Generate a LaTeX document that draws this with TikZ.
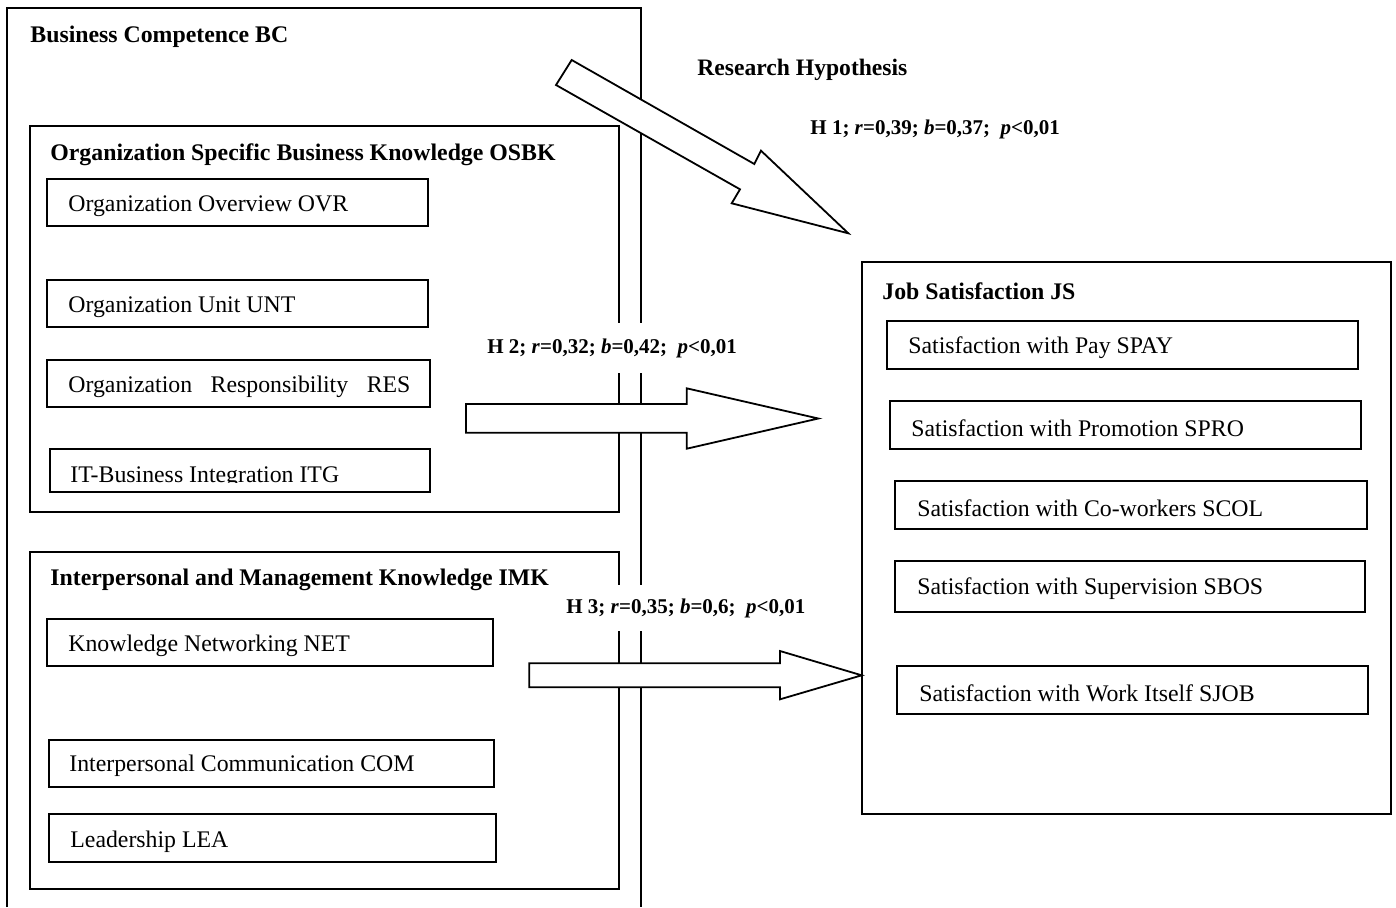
\documentclass[tikz,border=0pt]{standalone}
\usepackage{fontspec}
\setmainfont{Liberation Serif}
\begin{document}
\begin{tikzpicture}[x=0.5pt,y=-0.5pt,
  frame/.style={draw=black, line width=1pt},
  itembox/.style={draw=black, line width=0.9pt},
  itemtext/.style={anchor=west, inner sep=0pt, font=\fontsize{11.9pt}{14pt}\selectfont},
  titletext/.style={anchor=west, inner sep=0pt, font=\fontsize{11.9pt}{14pt}\selectfont\bfseries},
  hyptext/.style={anchor=west, fill=white, inner xsep=3pt, inner ysep=0pt, font=\fontsize{10.5pt}{12pt}\selectfont\bfseries},
  blockarrow/.style={draw=black, fill=white, line width=0.9pt, line join=miter}]
\useasboundingbox (0,0) rectangle (1396,907);

% Business Competence (outer frame, open at the bottom)
\draw[frame] (7,907) -- (7,8) -- (641,8) -- (641,907);
\node[titletext] (bc) at (30,37) {Business Competence BC};

% OSBK
\draw[frame] (30,126) rectangle (619,512);
\node[titletext] (osbk) at (50,155) {Organization Specific Business Knowledge OSBK};
\draw[itembox] (47,179) rectangle (428,226);
\node[itemtext] (ovr) at (68,206) {Organization Overview OVR};
\draw[itembox] (47,280) rectangle (428,327);
\node[itemtext] (unt) at (68,307) {Organization Unit UNT};
\draw[itembox] (47,360) rectangle (430,407);
\node[itemtext] (res) at (68,387) {\makebox[171pt][s]{Organization Responsibility RES}};
\draw[itembox] (50,449) rectangle (430,492);
\begin{scope}
\clip (50,449) rectangle (430,482);
\node[itemtext] (itg) at (70,477) {IT-Business Integration ITG};
\end{scope}

% IMK
\draw[frame] (30,552) rectangle (619,889);
\node[titletext] (imk) at (50,580) {Interpersonal and Management Knowledge IMK};
\draw[itembox] (47,619) rectangle (493,666);
\node[itemtext] (net) at (68,646) {Knowledge Networking NET};
\draw[itembox] (49,740) rectangle (494,787);
\node[itemtext] (com) at (69,766) {Interpersonal Communication COM};
\draw[itembox] (49,814) rectangle (496,862);
\node[itemtext] (lea) at (70,842) {Leadership LEA};

% Job Satisfaction
\draw[frame] (862,262) rectangle (1391,814);
\node[titletext] (js) at (882,291) {Job Satisfaction JS};
\draw[itembox] (887,321) rectangle (1358,369);
\node[itemtext] (spay) at (908,348) {Satisfaction with Pay SPAY};
\draw[itembox] (890,401) rectangle (1361,449);
\node[itemtext] (spro) at (911,428) {Satisfaction with Promotion SPRO};
\draw[itembox] (895,481) rectangle (1367,529);
\node[itemtext] (scol) at (917,508) {Satisfaction with Co-workers SCOL};
\draw[itembox] (895,561) rectangle (1365,612);
\node[itemtext] (sbos) at (917,589) {Satisfaction with Supervision SBOS};
\draw[itembox] (897,666) rectangle (1368,714);
\node[itemtext] (sjob) at (919,693) {Satisfaction with Work Itself SJOB};

% Block arrows
\draw[blockarrow] (571.7,60) -- (754.3,164) -- (761,150.7) -- (848.3,233.3)
  -- (731.7,203.3) -- (740,189.3) -- (556,85) -- cycle;
\draw[blockarrow] (466,404) -- (686.7,404) -- (686.7,388.3) -- (818.3,418.5)
  -- (686.7,448.7) -- (686.7,432.7) -- (466,432.7) -- cycle;
\draw[blockarrow] (529.3,663.3) -- (780,663.3) -- (780,651) -- (861.7,675.3)
  -- (780,699.3) -- (780,687.3) -- (529.3,687.3) -- cycle;

% Hypothesis labels
\node[titletext, font=\fontsize{11.8pt}{14pt}\selectfont\bfseries] (rh) at (697,70) {Research Hypothesis};
\node[hyptext] (h1) at (804,129) {H 1; \textit{r}=0,39; \textit{b}=0,37;\ \ \textit{p}<0,01};
\node[hyptext, minimum height=25pt] (h2) at (481,348) {H 2; \textit{r}=0,32; \textit{b}=0,42;\ \ \textit{p}<0,01};
\node[hyptext, minimum height=23pt] (h3) at (560,608) {H 3; \textit{r}=0,35; \textit{b}=0,6;\ \ \textit{p}<0,01};
\end{tikzpicture}
\end{document}
